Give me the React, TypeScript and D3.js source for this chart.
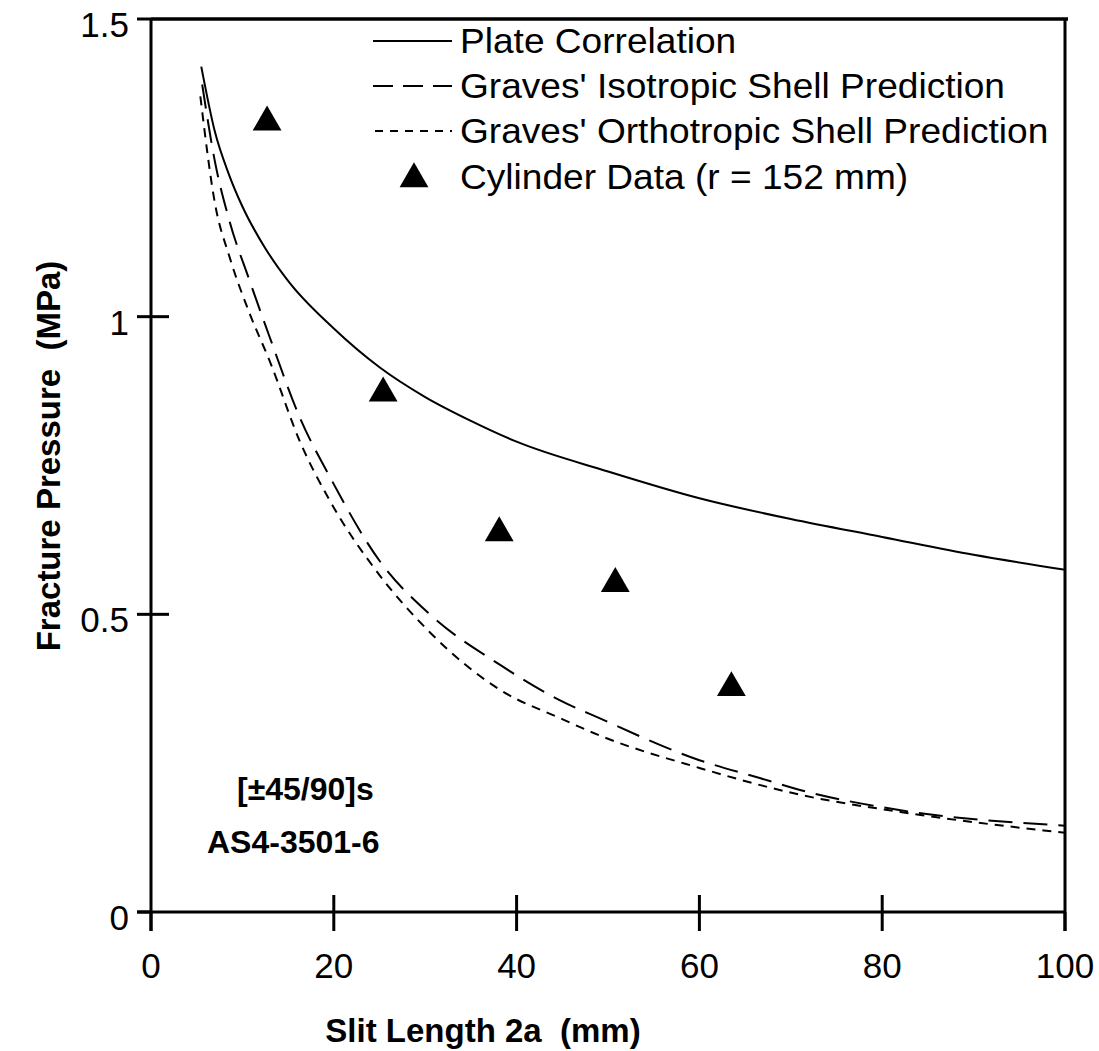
import React from "react";
import * as d3 from "d3";

// ---- Data ----
const xTicks = [0, 20, 40, 60, 80, 100];
const yTicks = [0, 0.5, 1, 1.5];
const yTickLabels = ["0", "0.5", "1", "1.5"];

const plateX = [5.5, 7, 8.5, 10, 12.5, 15, 20, 25, 30, 35, 40, 50, 60, 70, 80, 90, 100];
const plateY = [1.42, 1.31, 1.24, 1.185, 1.115, 1.06, 0.98, 0.915, 0.865, 0.825, 0.79, 0.74, 0.695, 0.66, 0.63, 0.6, 0.575];

const isoX = [5.6, 7, 8.6, 10.8, 13, 16.3, 19.6, 25, 30.5, 38.2, 44.7, 49, 60, 66.6, 71, 82, 100];
const isoY = [1.39, 1.26, 1.16, 1.06, 0.965, 0.83, 0.73, 0.59, 0.5, 0.415, 0.356, 0.326, 0.255, 0.225, 0.205, 0.171, 0.145];

const orthoX = [5.4, 7, 8.6, 10.8, 13, 16.3, 19.6, 25, 30.5, 38.2, 44.7, 49, 60, 71, 82, 100];
const orthoY = [1.37, 1.19, 1.1, 1.005, 0.925, 0.79, 0.69, 0.566, 0.47, 0.373, 0.326, 0.297, 0.242, 0.197, 0.168, 0.133];

const cylX = [12.7, 25.4, 38.1, 50.8, 63.5];
const cylY = [1.33, 0.875, 0.64, 0.555, 0.38];

const legendLabels = [
  "Plate Correlation",
  "Graves' Isotropic Shell Prediction",
  "Graves' Orthotropic Shell Prediction",
  "Cylinder Data (r = 152 mm)",
];

const FONT = "'Liberation Sans', Arial, Helvetica, sans-serif";

export default function App() {
  const W = 1099;
  const H = 1051;
  const x = d3.scaleLinear().domain([0, 100]).range([151, 1065]);
  const y = d3.scaleLinear().domain([0, 1.5]).range([912, 19]);

  const line = d3
    .line<[number, number]>()
    .x((d) => x(d[0]))
    .y((d) => y(d[1]))
    .curve(d3.curveMonotoneX);

  const platePath = line(plateX.map((v, i) => [v, plateY[i]]) as [number, number][]) || "";
  const isoPath = line(isoX.map((v, i) => [v, isoY[i]]) as [number, number][]) || "";
  const orthoPath = line(orthoX.map((v, i) => [v, orthoY[i]]) as [number, number][]) || "";

  const tri = d3.symbol().type(d3.symbolTriangle).size(360)() || "";

  const x0 = x(0);
  const x1 = x(100);
  const y0 = y(0);
  const yTop = y(1.5);

  const legY = [41, 86, 131, 177];

  return (
    <svg
      width={W}
      height={H}
      style={{ position: "absolute", left: 0, top: 0, background: "#fff" }}
      fontFamily={FONT}
    >
      <rect x={0} y={0} width={W} height={H} fill="#fff" />
      {/* frame */}
      <line x1={x0} y1={yTop} x2={x1 + 3} y2={yTop} stroke="#000" strokeWidth={3.5} />
      <line x1={x1} y1={yTop} x2={x1} y2={y0 + 19} stroke="#000" strokeWidth={3} />
      <line x1={x0} y1={yTop} x2={x0} y2={y0 + 19} stroke="#000" strokeWidth={3} />
      <line x1={x0 - 14} y1={y0} x2={x1} y2={y0} stroke="#000" strokeWidth={3} />

      {/* y ticks */}
      {yTicks.map((t, i) => (
        <g key={"yt" + i}>
          <line
            x1={x0 - 14}
            x2={t === 0 || t === 1.5 ? x0 : x0 + 18}
            y1={y(t)}
            y2={y(t)}
            stroke="#000"
            strokeWidth={3}
          />
          <text x={129} y={y(t) + 18} fontSize={35} textAnchor="end" fill="#000">
            {yTickLabels[i]}
          </text>
        </g>
      ))}

      {/* x ticks */}
      {xTicks.map((t, i) => (
        <g key={"xt" + i}>
          <line
            x1={x(t)}
            x2={x(t)}
            y1={t === 0 || t === 100 ? y0 : y0 - 17}
            y2={y0 + 19}
            stroke="#000"
            strokeWidth={3}
          />
          <text x={x(t)} y={978} fontSize={35} textAnchor="middle" fill="#000">
            {String(t)}
          </text>
        </g>
      ))}

      {/* curves */}
      <path d={platePath} fill="none" stroke="#000" strokeWidth={2} />
      <path d={isoPath} fill="none" stroke="#000" strokeWidth={2} strokeDasharray="24 11" />
      <path d={orthoPath} fill="none" stroke="#000" strokeWidth={2} strokeDasharray="9 7" />

      {/* data triangles */}
      {cylX.map((v, i) => (
        <path key={"c" + i} d={tri} transform={`translate(${x(v)},${y(cylY[i]) + 2})`} fill="#000" />
      ))}

      {/* legend */}
      <line x1={373} x2={452} y1={legY[0]} y2={legY[0]} stroke="#000" strokeWidth={2} />
      <line x1={373} x2={452} y1={legY[1]} y2={legY[1]} stroke="#000" strokeWidth={2} strokeDasharray="20 10" />
      <line x1={375} x2={452} y1={legY[2]} y2={legY[2]} stroke="#000" strokeWidth={2} strokeDasharray="8 7" />
      <path d={tri} transform={`translate(414,${legY[3] + 2})`} fill="#000" />
      {legendLabels.map((l, i) => (
        <text
          key={"l" + i}
          transform={`translate(460,${legY[i] + 12}) scale(1.06,1)`}
          fontSize={35}
          fill="#000"
        >
          {l}
        </text>
      ))}

      {/* annotations */}
      <text x={237} y={800} fontSize={32} fontWeight="bold" fill="#000">
        [±45/90]s
      </text>
      <text x={207} y={853} fontSize={32} fontWeight="bold" fill="#000">
        AS4-3501-6
      </text>

      {/* axis titles */}
      <text
        x={483}
        y={1042}
        fontSize={33}
        fontWeight="bold"
        textAnchor="middle"
        fill="#000"
        style={{ whiteSpace: "pre" }}
      >
        Slit Length 2a  (mm)
      </text>
      <text
        transform={`translate(60,456) rotate(-90)`}
        fontSize={33}
        fontWeight="bold"
        textAnchor="middle"
        fill="#000"
        style={{ whiteSpace: "pre" }}
      >
        Fracture Pressure  (MPa)
      </text>
    </svg>
  );
}
